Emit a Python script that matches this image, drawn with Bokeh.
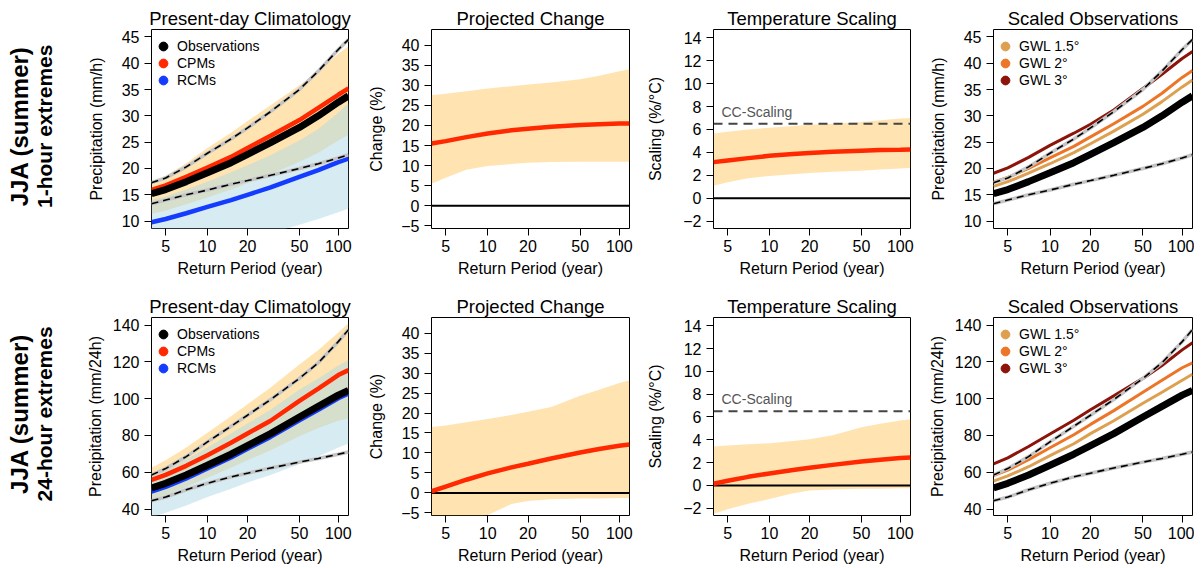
import math
from bokeh.plotting import figure
from bokeh.layouts import gridplot
from bokeh.models import (Range1d, FixedTicker, CustomJSTickFormatter, Legend,
                          LegendItem, Label)
from bokeh.embed import file_html
from bokeh.resources import INLINE

# ---------------- data ----------------
T = [4, 5, 7, 10, 15, 20, 30, 50, 70, 100, 120]          # return period (years)
xtick_T = [5, 10, 20, 50, 100]
xtick_labels = ["5", "10", "20", "50", "100"]

# 1-hour extremes
obs_1h = [15.2, 16.0, 17.5, 19.2, 21.1, 22.7, 24.9, 27.8, 30.0, 32.6, 33.8]
cpm_1h = [15.9, 16.8, 18.4, 20.2, 22.2, 23.9, 26.2, 29.2, 31.5, 34.0, 35.2]
rcm_1h = [9.8, 10.4, 11.5, 12.7, 14.0, 15.0, 16.4, 18.4, 19.7, 21.2, 21.9]
obs_hi_1h = [17.3, 18.2, 20.3, 22.9, 25.6, 27.7, 30.8, 35.0, 38.5, 42.6, 44.5]
obs_lo_1h = [13.3, 14.0, 15.0, 15.9, 17.0, 17.7, 18.7, 20.0, 20.9, 22.0, 22.6]
cpm_hi_1h = [17.5, 18.6, 21.0, 23.9, 26.8, 29.0, 32.0, 35.8, 38.5, 41.8, 43.2]
cpm_lo_1h = [11.4, 12.0, 13.2, 14.5, 16.0, 17.2, 18.9, 21.3, 23.0, 25.3, 26.4]
rcm_hi_1h = [14.0, 14.7, 16.0, 17.5, 19.3, 20.6, 22.5, 25.3, 27.5, 30.6, 32.4]
rcm_lo_1h = [1.0, 1.8, 3.0, 4.3, 5.7, 6.6, 7.7, 9.3, 10.4, 11.7, 12.4]
chg_1h = [15.5, 16.1, 17.1, 18.0, 18.8, 19.2, 19.7, 20.1, 20.3, 20.5, 20.5]
chg_hi_1h = [27.5, 27.9, 28.5, 29.2, 29.8, 30.2, 30.7, 31.5, 32.4, 33.5, 34.0]
chg_lo_1h = [5.5, 7.0, 9.0, 9.9, 10.4, 10.7, 10.9, 11.0, 11.0, 11.0, 11.0]
scl_1h = [3.15, 3.3, 3.5, 3.7, 3.85, 3.95, 4.05, 4.15, 4.2, 4.22, 4.25]
scl_hi_1h = [5.65, 5.8, 6.0, 6.15, 6.3, 6.4, 6.5, 6.65, 6.8, 6.95, 7.0]
scl_lo_1h = [1.1, 1.4, 1.75, 1.95, 2.1, 2.2, 2.3, 2.4, 2.5, 2.6, 2.65]
gwl15_1h = [16.6, 17.5, 19.1, 20.9, 23.0, 24.7, 27.1, 30.3, 32.7, 35.5, 36.8]
gwl2_1h = [17.4, 18.3, 20.0, 22.0, 24.2, 26.0, 28.5, 31.8, 34.3, 37.3, 38.6]
gwl3_1h = [19.1, 20.1, 22.1, 24.4, 26.7, 28.4, 31.1, 35.2, 37.9, 40.9, 42.2]

# 24-hour extremes
obs_24h = [51.5, 54.0, 58.5, 63.8, 69.8, 74.5, 81.0, 90.0, 95.8, 101.9, 104.5]
cpm_24h = [55.8, 58.6, 63.5, 69.3, 76.0, 81.1, 88.0, 98.8, 105.5, 112.8, 115.5]
rcm_24h = [49.5, 52.0, 56.6, 62.0, 68.0, 72.8, 79.2, 88.3, 94.0, 100.2, 102.8]
obs_hi_24h = [58.5, 62.0, 68.5, 76.5, 85.0, 91.0, 99.5, 111.0, 119.5, 131.0, 137.5]
obs_lo_24h = [44.5, 46.5, 50.5, 54.0, 57.5, 59.5, 62.3, 65.5, 67.5, 69.8, 71.0]
cpm_hi_24h = [62.5, 66.5, 73.5, 81.5, 90.5, 97.0, 106.0, 118.5, 126.5, 136.0, 141.0]
cpm_lo_24h = [45.0, 47.5, 52.0, 57.0, 62.5, 66.5, 72.0, 79.5, 84.0, 88.0, 89.2]
rcm_hi_24h = [58.0, 61.5, 67.0, 73.5, 81.0, 86.5, 94.0, 105.0, 111.0, 118.0, 121.0]
rcm_lo_24h = [35.5, 38.0, 42.0, 46.5, 51.0, 54.5, 58.5, 64.5, 68.5, 73.5, 75.6]
chg_24h = [0.4, 1.6, 3.3, 4.9, 6.4, 7.3, 8.6, 10.1, 11.0, 11.8, 12.1]
chg_hi_24h = [16.5, 16.9, 17.7, 18.5, 19.5, 20.3, 21.5, 24.3, 25.8, 27.5, 28.2]
chg_lo_24h = [-9.0, -8.3, -7.0, -5.5, -2.8, -2.0, -1.6, -1.4, -1.4, -1.3, -1.3]
scl_24h = [0.15, 0.4, 0.75, 1.05, 1.35, 1.55, 1.8, 2.1, 2.25, 2.4, 2.45]
scl_hi_24h = [3.4, 3.5, 3.6, 3.7, 3.9, 4.05, 4.4, 5.1, 5.4, 5.7, 5.8]
scl_lo_24h = [-2.5, -2.1, -1.6, -1.2, -0.7, -0.45, -0.35, -0.3, -0.3, -0.25, -0.25]
gwl15_24h = [55.2, 58.0, 63.0, 69.0, 75.5, 81.0, 88.0, 97.5, 103.5, 110.0, 113.3]
gwl2_24h = [58.2, 61.2, 66.8, 73.3, 80.4, 86.0, 93.5, 103.5, 110.0, 116.8, 119.5]
gwl3_24h = [64.5, 67.8, 74.0, 80.8, 88.3, 94.0, 101.5, 111.0, 118.0, 126.5, 130.4]

cc_scaling = 6.5
zero = 0.0

yticks_1h = [10, 15, 20, 25, 30, 35, 40, 45]
yticks_24h = [40, 60, 80, 100, 120, 140]
yticks_chg = [-5, 0, 5, 10, 15, 20, 25, 30, 35, 40]
yticks_scl = [-2, 0, 2, 4, 6, 8, 10, 12, 14]

row_labels = [("JJA (summer)", "1-hour extremes"), ("JJA (summer)", "24-hour extremes")]

# ---------------- styling ----------------
FONT = "Liberation Sans"
BAND_CPM = "#FFA500"
BAND_RCM = "#ADD8E6"
C_OBS = "black"
C_CPM = "#FF2800"
C_RCM = "#143CFF"
C_G15 = "#DDA050"
C_G2 = "#ED7528"
C_G3 = "#8C140A"
NAN = float("nan")


def gumbel(t):
    return -math.log(-math.log(1.0 - 1.0 / t))


X = [gumbel(t) for t in T]
XT = [gumbel(t) for t in xtick_T]
X_ENDS = [X[0], X[-1]]


def panel(title, ylabel, yrange, yticks, fw, fh, bl, br, bt, bb, ylab_so, xlab_so):
    p = figure(frame_width=fw, frame_height=fh,
               min_border_left=bl, min_border_right=br,
               min_border_top=bt, min_border_bottom=bb,
               x_range=Range1d(X[0], X[-1]), y_range=Range1d(*yrange),
               output_backend="svg", toolbar_location=None, title=title)
    p.title.text_font = FONT
    p.title.text_font_size = "18.5px"
    p.title.text_font_style = "normal"
    p.title.text_color = "black"
    p.title.align = "center"
    p.title.standoff = 2
    p.xgrid.visible = False
    p.ygrid.visible = False
    p.outline_line_color = "black"
    p.outline_line_width = 1
    p.outline_line_alpha = 1
    p.background_fill_color = "white"
    p.border_fill_color = "white"
    p.xaxis.ticker = FixedTicker(ticks=XT)
    p.xaxis.formatter = CustomJSTickFormatter(args=dict(labels=xtick_labels),
                                              code="return labels[index];")
    p.yaxis.ticker = FixedTicker(ticks=yticks)
    p.xaxis.axis_label = "Return Period (year)"
    p.yaxis.axis_label = ylabel
    for ax in (p.xaxis[0], p.yaxis[0]):
        ax.axis_line_color = None
        ax.major_tick_in = 0
        ax.major_tick_out = 7
        ax.major_tick_line_color = "black"
        ax.major_tick_line_width = 1
        ax.minor_tick_line_color = None
        ax.major_label_text_font = FONT
        ax.major_label_text_font_size = "16px"
        ax.major_label_text_color = "black"
        ax.axis_label_text_font = FONT
        ax.axis_label_text_font_size = "16px"
        ax.axis_label_text_font_style = "normal"
        ax.axis_label_text_color = "black"
    p.yaxis.major_label_standoff = 5
    p.xaxis.major_label_standoff = 4
    p.yaxis.axis_label_standoff = ylab_so
    p.xaxis.axis_label_standoff = xlab_so
    return p


def band(p, lo, hi, color, alpha):
    p.varea(x=X, y1=lo, y2=hi, fill_color=color, fill_alpha=alpha)


def dashed(p, y):
    p.line(X, y, line_color="#C4C4C4", line_width=3.5)
    p.line(X, y, line_color="black", line_width=1.6, line_dash="7 5")


def legend(p, fh, entries):
    # one small legend per entry so that the row pitch can be tighter than the dot box
    for i, (lab, col) in enumerate(entries):
        r = p.scatter(x=[NAN], y=[NAN], size=9, fill_color=col, line_color=col)
        c = 17 + 17 * i                     # centre of the entry below the frame top
        lg = Legend(items=[LegendItem(label=lab, renderers=[r])],
                    location=(1, fh - c - 11), padding=0, margin=0, spacing=0,
                    glyph_width=22, glyph_height=22, label_height=22,
                    label_standoff=3, border_line_color=None,
                    background_fill_alpha=0, label_text_font=FONT,
                    label_text_font_size="14px", label_text_color="black")
        p.add_layout(lg)


def hline(p, value, color, width, dash="solid"):
    p.line(X_ENDS, [value, value], line_color=color, line_width=width, line_dash=dash)


def build_row(fh, bt, bb, xlab_so, y_prec, yticks_prec, unit,
              obs, cpm, rcm, ohi, olo, chi, clo, rhi, rlo,
              chg, chg_hi, chg_lo, scl, scl_hi, scl_lo, g15, g2, g3, ylab_prec_so):
    # Present-day climatology
    p1 = panel("Present-day Climatology", "Precipitation (%s)" % unit, y_prec, yticks_prec,
               197, fh, 83, 15, bt, bb, ylab_prec_so, xlab_so)
    band(p1, clo, chi, BAND_CPM, 0.3)
    band(p1, rlo, rhi, BAND_RCM, 0.5)
    p1.line(X, rcm, line_color=C_RCM, line_width=4.5)
    p1.line(X, cpm, line_color=C_CPM, line_width=4.5)
    p1.line(X, obs, line_color=C_OBS, line_width=7)
    dashed(p1, ohi)
    dashed(p1, olo)
    legend(p1, fh, [("Observations", C_OBS), ("CPMs", C_CPM), ("RCMs", C_RCM)])

    # Projected change
    p2 = panel("Projected Change", "Change (%)", (-5.65, 43.9), yticks_chg,
               198, fh, 68, 15, bt, bb, 13, xlab_so)
    band(p2, chg_lo, chg_hi, BAND_CPM, 0.3)
    hline(p2, zero, "black", 2)
    p2.line(X, chg, line_color=C_CPM, line_width=4.5)

    # Temperature scaling
    p3 = panel("Temperature Scaling", "Scaling (%/\u00b0C)", (-2.64, 14.72), yticks_scl,
               197, fh, 68, 15, bt, bb, 16, xlab_so)
    band(p3, scl_lo, scl_hi, BAND_CPM, 0.3)
    hline(p3, zero, "black", 2)
    hline(p3, cc_scaling, "#444444", 2, "9 6")
    p3.line(X, scl, line_color=C_CPM, line_width=4.5)
    p3.add_layout(Label(x=8, y=cc_scaling, x_units="screen", y_units="data", y_offset=4,
                        text="CC-Scaling", text_font=FONT, text_font_size="14px",
                        text_color="#555555", text_baseline="bottom"))

    # Scaled observations
    p4 = panel("Scaled Observations", "Precipitation (%s)" % unit, y_prec, yticks_prec,
               199, fh, 68, 2, bt, bb, ylab_prec_so, xlab_so)
    p4.line(X, obs, line_color=C_OBS, line_width=7)
    p4.line(X, g15, line_color=C_G15, line_width=3)
    p4.line(X, g2, line_color=C_G2, line_width=3)
    p4.line(X, g3, line_color=C_G3, line_width=3)
    dashed(p4, ohi)
    dashed(p4, olo)
    legend(p4, fh, [("GWL 1.5\u00b0", C_G15), ("GWL 2\u00b0", C_G2), ("GWL 3\u00b0", C_G3)])
    return [p1, p2, p3, p4]


def label_fig(h, yc, lines):
    W = 68
    p = figure(width=W, height=h, x_range=Range1d(0, W), y_range=Range1d(0, h),
               x_axis_type=None, y_axis_type=None, output_backend="svg",
               toolbar_location=None, min_border=0, title=None)
    p.outline_line_color = None
    p.background_fill_color = "white"
    p.border_fill_color = "white"
    p.text(x=[19], y=[yc], text=[lines[0]], angle=math.pi / 2, text_align="center",
           text_baseline="alphabetic", text_font={"value": FONT},
           text_font_size="24px", text_font_style="bold", text_color="black")
    p.text(x=[44], y=[yc], text=[lines[1]], angle=math.pi / 2, text_align="center",
           text_baseline="alphabetic", text_font={"value": FONT},
           text_font_size="21px", text_font_style="bold", text_color="black")
    return p


row1 = build_row(199, 29, 64, 5, (8.6, 46.4), yticks_1h, "mm/h",
                 obs_1h, cpm_1h, rcm_1h, obs_hi_1h, obs_lo_1h, cpm_hi_1h, cpm_lo_1h,
                 rcm_hi_1h, rcm_lo_1h, chg_1h, chg_hi_1h, chg_lo_1h,
                 scl_1h, scl_hi_1h, scl_lo_1h, gwl15_1h, gwl2_1h, gwl3_1h, 14)
row2 = build_row(198, 23, 50, 5, (36.5, 144.1), yticks_24h, "mm/24h",
                 obs_24h, cpm_24h, rcm_24h, obs_hi_24h, obs_lo_24h, cpm_hi_24h, cpm_lo_24h,
                 rcm_hi_24h, rcm_lo_24h, chg_24h, chg_hi_24h, chg_lo_24h,
                 scl_24h, scl_hi_24h, scl_lo_24h, gwl15_24h, gwl2_24h, gwl3_24h, 6)

lab1 = label_fig(292, 150, row_labels[0])
lab2 = label_fig(271, 137, row_labels[1])

grid = gridplot([[lab1] + row1, [lab2] + row2], toolbar_location=None)

open("out.html", "w").write(file_html(grid, INLINE))
